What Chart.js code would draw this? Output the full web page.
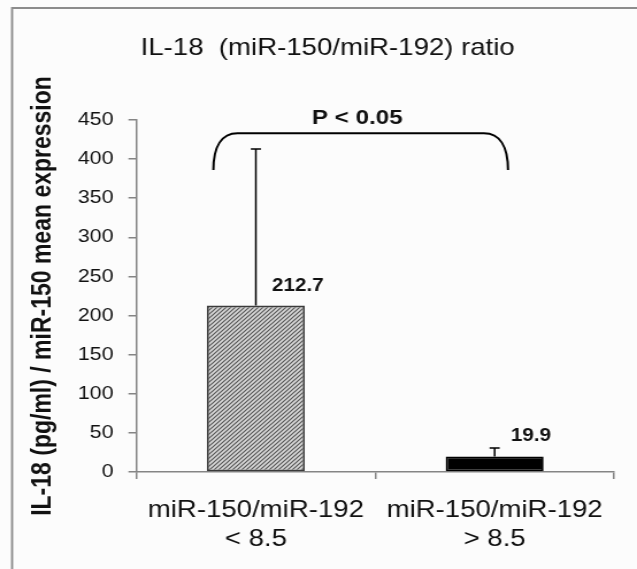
<!DOCTYPE html>
<html>
<head>
<meta charset="utf-8">
<script src="https://cdn.jsdelivr.net/npm/chart.js@4"></script>
<style>
html,body{margin:0;padding:0;background:#fcfcfc;overflow:hidden;}
#c{display:block;width:637px;height:569px;}
</style>
</head>
<body>
<canvas id="c" width="554" height="569" style="width:637px;height:569px"></canvas>
<script>
// ---- data ----
const categories = [["miR-150/miR-192", "< 8.5"], ["miR-150/miR-192", "> 8.5"]];
const meanValues = [212.7, 19.9];
const errorValues = [200.3, 10.8];
const valueLabels = ["212.7", "19.9"];
const yTicks = [0, 50, 100, 150, 200, 250, 300, 350, 400, 450];
const chartTitle = "IL-18  (miR-150/miR-192) ratio";
const yAxisTitle = "IL-18 (pg/ml) / miR-150 mean expression";
const significanceText = "P < 0.05";
const bracketFrom = [0, 1];
const bracketLevels = [433, 386];

const FONT = '"Liberation Sans", Arial, sans-serif';

function makeHatch() {
  const p = document.createElement('canvas');
  p.width = 4; p.height = 4;
  const g = p.getContext('2d');
  g.fillStyle = '#dadada';
  g.fillRect(0, 0, 4, 4);
  g.strokeStyle = '#555';
  g.lineWidth = 1.2;
  g.beginPath();
  g.moveTo(-1, 5); g.lineTo(5, -1);
  g.moveTo(-1, 1); g.lineTo(1, -1);
  g.moveTo(3, 5); g.lineTo(5, 3);
  g.stroke();
  return document.getElementById('c').getContext('2d').createPattern(p, 'repeat');
}

const framePlugin = {
  id: 'frame',
  beforeDraw(chart) {
    const ctx = chart.ctx;
    ctx.save();
    ctx.fillStyle = '#fcfcfc';
    ctx.fillRect(0, 0, chart.width, chart.height);
    ctx.strokeStyle = '#8c8c8c';
    ctx.lineWidth = 1.8;
    ctx.beginPath();
    ctx.moveTo(10.5, chart.height);
    ctx.lineTo(10.5, 8);
    ctx.lineTo(chart.width, 8);
    ctx.stroke();
    ctx.fillStyle = '#111';
    ctx.font = '24px ' + FONT;
    ctx.textAlign = 'center';
    ctx.textBaseline = 'middle';
    ctx.fillText(chartTitle, 285, 48);
    ctx.restore();
  }
};

const errorPlugin = {
  id: 'errbars',
  afterDatasetsDraw(chart) {
    const ctx = chart.ctx;
    const meta = chart.getDatasetMeta(0);
    const y = chart.scales.y;
    ctx.save();
    ctx.strokeStyle = '#000';
    ctx.lineWidth = 1.5;
    meta.data.forEach((bar, i) => {
      const top = y.getPixelForValue(meanValues[i] + errorValues[i]);
      ctx.beginPath();
      ctx.moveTo(bar.x, bar.y);
      ctx.lineTo(bar.x, top);
      ctx.moveTo(bar.x - 4.4, top);
      ctx.lineTo(bar.x + 4.4, top);
      ctx.stroke();
      ctx.fillStyle = '#111';
      ctx.font = 'bold 18px ' + FONT;
      ctx.textAlign = 'left';
      ctx.textBaseline = 'middle';
      ctx.fillText(valueLabels[i], bar.x + 14, bar.y - 20);
    });
    ctx.restore();
  },
  afterDraw(chart) {
    const ctx = chart.ctx;
    const x = chart.scales.x;
    const y = chart.scales.y;
    const catW = x.getPixelForValue(1) - x.getPixelForValue(0);
    const xl = x.getPixelForValue(bracketFrom[0]) - 0.178 * catW;
    const xr = x.getPixelForValue(bracketFrom[1]) + 0.056 * catW;
    const yt = y.getPixelForValue(bracketLevels[0]);
    const yb = y.getPixelForValue(bracketLevels[1]);
    const r = 21;
    ctx.save();
    ctx.strokeStyle = '#000';
    ctx.lineWidth = 2;
    ctx.beginPath();
    ctx.moveTo(xl, yb);
    ctx.bezierCurveTo(xl, yt + (yb - yt) * 0.35, xl + r * 0.35, yt, xl + r, yt);
    ctx.lineTo(xr - r, yt);
    ctx.bezierCurveTo(xr - r * 0.35, yt, xr, yt + (yb - yt) * 0.35, xr, yb);
    ctx.stroke();
    ctx.fillStyle = '#111';
    ctx.font = 'bold 21px ' + FONT;
    ctx.textAlign = 'center';
    ctx.textBaseline = 'middle';
    ctx.fillText(significanceText, (xl + xr) / 2 - 3, yt - 15);
    ctx.restore();
  }
};

const axisColor = '#858585';

new Chart(document.getElementById('c'), {
  type: 'bar',
  data: {
    labels: categories,
    datasets: [{
      data: meanValues,
      backgroundColor: [makeHatch(), '#000000'],
      borderColor: ['#3a3a3a', '#000000'],
      borderWidth: 1.8,
      borderSkipped: false,
      categoryPercentage: 1,
      barPercentage: 0.41
    }]
  },
  options: {
    responsive: false,
    animation: false,
    devicePixelRatio: 1,
    layout: { padding: { left: 10, right: 20, top: 120, bottom: 0 } },
    plugins: {
      legend: { display: false },
      tooltip: { enabled: false },
      title: { display: false }
    },
    scales: {
      x: {
        grid: { drawOnChartArea: false, offset: true, tickLength: 7, color: axisColor, lineWidth: 1.5 },
        border: { color: axisColor, width: 1.5 },
        ticks: {
          color: '#111',
          padding: 17,
          maxRotation: 0,
          autoSkip: false,
          font: { family: FONT, size: 24 }
        },
        afterFit(scale) { scale.height = 97; }
      },
      y: {
        min: 0,
        max: 450,
        afterBuildTicks(scale) { scale.ticks = yTicks.map(v => ({ value: v })); },
        grid: { drawOnChartArea: false, tickLength: 7, color: axisColor, lineWidth: 1.5 },
        border: { color: axisColor, width: 1.5 },
        ticks: {
          color: '#111',
          padding: 13,
          font: { family: FONT, size: 18.5 }
        },
        title: {
          display: true,
          text: yAxisTitle,
          color: '#111',
          font: { family: FONT, size: 23, weight: 'bold' },
          padding: { top: 14, bottom: 0 }
        },
        afterFit(scale) { scale.width = 108.7; }
      }
    }
  },
  plugins: [framePlugin, errorPlugin]
});
</script>
</body>
</html>
